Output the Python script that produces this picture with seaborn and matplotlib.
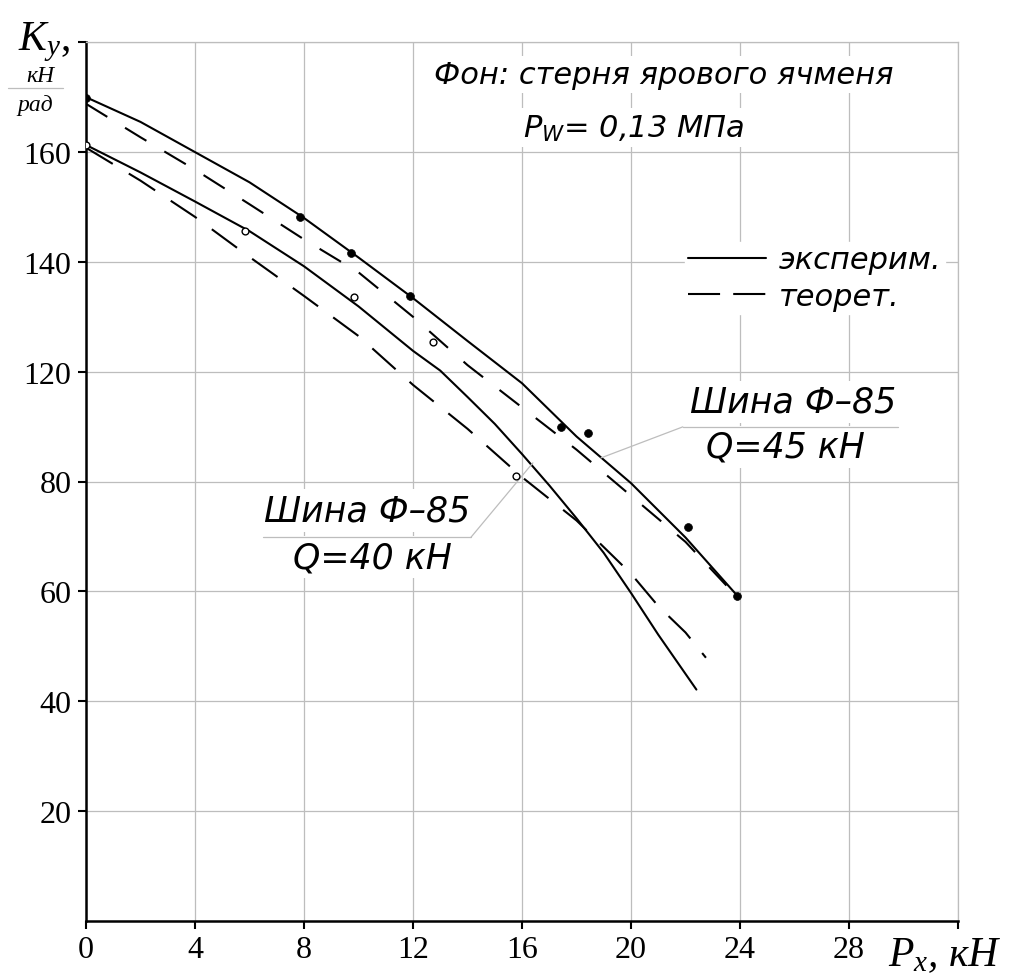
import numpy as np
import pandas as pd
import matplotlib
matplotlib.use("Agg")
import matplotlib.pyplot as plt
from matplotlib.lines import Line2D
import seaborn as sns

# ---------------- data ----------------
px_exp45 = [0, 2, 4, 6, 8, 10, 12, 14, 16, 18, 20, 22, 23.9]
ky_exp45 = [150, 145.5, 140, 134.5, 128, 120.8, 113.4, 105.6, 97.9, 88.2, 79.7, 69.8, 59.2]
px_theo45 = [0, 2, 4, 6, 8, 10, 12, 14, 16, 18, 20, 22, 23.7]
ky_theo45 = [148.8, 142.7, 136.8, 130.5, 124.1, 118.1, 110, 101.2, 93.5, 85.8, 77.4, 69, 60]
px_exp40 = [0, 2, 4, 6, 8, 10, 12, 13, 14, 15, 16, 17, 18, 19, 20, 21, 22.4]
ky_exp40 = [141.3, 136.3, 131, 125.6, 119.2, 111.9, 103.8, 100.2, 95.4, 90.5, 85, 79.3, 73.3, 67, 59.7, 52.1, 42.1]
px_theo40 = [0, 2, 4, 6, 8, 10, 12, 14, 16, 18, 20, 21, 22, 22.75]
ky_theo40 = [140.8, 134.8, 128.2, 120.9, 113.8, 106.5, 97.6, 89.6, 80.8, 72.9, 63.2, 57.3, 52.5, 47.9]
px_pts45 = [0, 7.84, 9.73, 11.89, 17.43, 18.43, 22.1, 23.88]
ky_pts45 = [149.8, 128.1, 121.6, 113.8, 89.9, 88.8, 71.8, 59.2]
px_pts40 = [0, 5.82, 9.85, 12.73, 15.77]
ky_pts40 = [141.3, 125.6, 113.6, 105.5, 81.0]

x_ticks = [0, 4, 8, 12, 16, 20, 24, 28, 32]
x_ticklabels = ["0", "4", "8", "12", "16", "20", "24", "28", ""]
y_ticks = [20, 40, 60, 80, 100, 120, 140, 160]
y_ticklabels = ["20", "40", "60", "80", "120", "140", "160", ""]

legend_labels = ["эксперим.", "теорет."]
title_line1 = "Фон: стерня ярового ячменя"
title_line2 = r"$\mathsf{P}_{\mathsf{W}}$= 0,13 МПа"
tyre_label = "Шина Ф–85"
load45_label = "Q=45 кН"
load40_label = "Q=40 кН"

# ---------------- style ----------------
sns.set_style("white")
plt.rcParams["font.family"] = ["DejaVu Sans"]
plt.rcParams["text.color"] = "black"
plt.rcParams["xtick.color"] = "black"
plt.rcParams["ytick.color"] = "black"
plt.rcParams["axes.labelcolor"] = "black"
plt.rcParams["mathtext.fontset"] = "custom"
plt.rcParams["mathtext.it"] = "Liberation Serif:italic"
plt.rcParams["mathtext.rm"] = "Liberation Serif"
plt.rcParams["mathtext.sf"] = "DejaVu Sans:italic"

W, H = 1017, 978
fig = plt.figure(figsize=(W / 100, H / 100), dpi=100)
fig.patch.set_facecolor("white")
ax = fig.add_axes([86 / W, 56.3 / H, 872 / W, 878.4 / H])
ax.set_facecolor("white")

LW = 1.5
grid_c = "#bdbdbd"

# curves
def curve(x, y, ls):
    df = pd.DataFrame({"Px": x, "Ky": y})
    sns.lineplot(data=df, x="Px", y="Ky", ax=ax, color="black", lw=LW,
                 linestyle=ls, sort=False, estimator=None, legend=False)

curve(px_exp45, ky_exp45, "-")
curve(px_theo45, ky_theo45, (0, (12, 10)))
curve(px_exp40, ky_exp40, "-")
curve(px_theo40, ky_theo40, (0, (15, 9)))

sns.scatterplot(x=px_pts45, y=ky_pts45, ax=ax, color="black", s=32,
                edgecolor="black", linewidth=0.5, zorder=5, legend=False)
sns.scatterplot(x=px_pts40, y=ky_pts40, ax=ax, facecolor="white", s=24,
                edgecolor="black", linewidth=1.0, zorder=5, legend=False)

# axes
ax.set_xlim(0, 32)
ax.set_ylim(0, 160)
ax.set_xticks(x_ticks)
ax.set_xticklabels(x_ticklabels)
ax.set_yticks(y_ticks)
ax.set_yticklabels(y_ticklabels)
ax.set_xlabel("")
ax.set_ylabel("")
ax.set_axisbelow(True)
ax.grid(True, color=grid_c, lw=0.9)
for s in ["left", "bottom"]:
    ax.spines[s].set_color("black")
    ax.spines[s].set_linewidth(1.8)
for s in ["top", "right"]:
    ax.spines[s].set_color(grid_c)
    ax.spines[s].set_linewidth(0.9)
ax.tick_params(axis="both", which="major", direction="out", length=5.5, width=1.5,
               color="black", labelcolor="black", pad=5, labelsize=23)
ax.tick_params(left=True, bottom=True, top=False, right=False)
for lab in ax.get_xticklabels() + ax.get_yticklabels():
    lab.set_family("Liberation Serif")

# texts
gost = dict(family="DejaVu Sans", style="italic", color="black")
box = dict(facecolor="white", edgecolor="none", pad=3)
ax.text(21.2, 154.1, title_line1, fontsize=22, ha="center", va="center", bbox=box, **gost)
ax.text(20.1, 144.4, title_line2, fontsize=22, ha="center", va="center", bbox=box, **gost)

ax.text(25.96, 94.5, tyre_label, fontsize=25, ha="center", va="center", bbox=box, **gost)
ax.text(25.66, 86.3, load45_label, fontsize=25, ha="center", va="center", bbox=box, **gost)
ax.plot([21.9, 29.8], [89.95, 89.95], color=grid_c, lw=0.9, zorder=4)
ax.plot([18.9, 21.9], [84.3, 89.95], color=grid_c, lw=0.9, zorder=4)

ax.text(10.33, 74.7, tyre_label, fontsize=25, ha="center", va="center", bbox=box, **gost)
ax.text(10.5, 66.2, load40_label, fontsize=25, ha="center", va="center", bbox=box, **gost)
ax.plot([6.5, 14.12], [69.8, 69.8], color=grid_c, lw=0.9, zorder=4)
ax.plot([14.12, 16.4], [69.8, 83.4], color=grid_c, lw=0.9, zorder=4)

# legend
handles = [Line2D([], [], color="black", lw=LW),
           Line2D([], [], color="black", lw=LW, linestyle=(0, (15.4, 6.3)))]
leg = ax.legend(handles, legend_labels, loc="upper left",
                bbox_to_anchor=(670 / W, 1 - 228 / H), bbox_transform=fig.transFigure,
                frameon=True, fancybox=False, framealpha=1, edgecolor="white",
                facecolor="white", borderpad=0.1, handlelength=2.55,
                handletextpad=0.42, labelspacing=0.25,
                prop=dict(family="DejaVu Sans", style="italic", size=22))
for t in leg.get_texts():
    t.set_color("black")

# axis titles
fig.text(18 / W, 1 - 50 / H, r"$K_y$,", fontsize=30, va="baseline", ha="left",
         family="Liberation Serif", color="black")
fig.text(40 / W, 1 - 82 / H, "кН", fontsize=17, va="baseline", ha="center",
         family="Liberation Serif", style="italic", color="black")
fig.text(35 / W, 1 - 111 / H, "рад", fontsize=17, va="baseline", ha="center",
         family="Liberation Serif", style="italic", color="black")
fig.add_artist(Line2D([8 / W, 63 / W], [1 - 89 / H, 1 - 89 / H], color=grid_c, lw=0.9))
fig.text(888 / W, 1 - 966 / H, r"$P_x$, кН", fontsize=30, va="baseline", ha="left",
         family="Liberation Serif", style="italic", color="black")

fig.savefig("out.png", dpi=100, facecolor="white")
